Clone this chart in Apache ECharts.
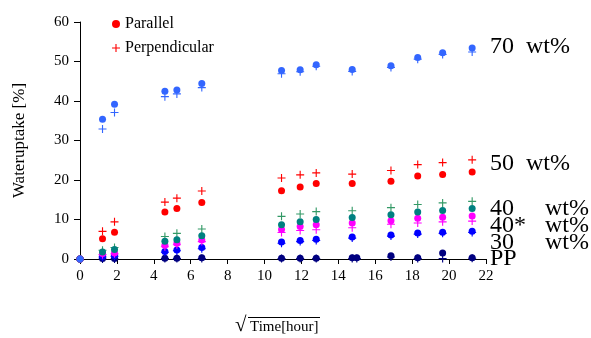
<!DOCTYPE html>
<html>
<head>
<meta charset="utf-8">
<script src="https://cdn.jsdelivr.net/npm/echarts@6/dist/echarts.min.js"></script>
<style>
  html, body { margin: 0; padding: 0; background: #fff; }
  #chart { width: 591px; height: 338px; }
</style>
</head>
<body>
<div id="chart"></div>
<script>
// sqrt(time) positions of the measurements
const xs = [0, 1.22, 1.87, 4.6, 5.25, 6.6, 10.92, 11.93, 12.8, 14.75, 16.85, 18.3, 19.65, 21.25]
const xsPP = [0, 1.22, 1.87, 4.6, 5.25, 6.6, 10.92, 11.93, 12.8, 14.75, 15.0, 16.85, 18.3, 19.65, 21.25]

const w70Par = [0, 35.4, 39.2, 42.5, 42.8, 44.4, 47.7, 47.9, 49.2, 48.0, 48.9, 51.0, 52.2, 53.4]
const w70Perp = [0, 32.9, 37.1, 41.1, 41.8, 43.4, 46.9, 47.4, 48.8, 47.5, 48.5, 50.6, 51.8, 52.4]
const w50Par = [0, 5.1, 6.8, 11.9, 12.8, 14.3, 17.3, 18.2, 19.1, 19.1, 19.7, 21.0, 21.4, 22.0]
const w50Perp = [0, 7.0, 9.4, 14.4, 15.4, 17.2, 20.5, 21.3, 21.8, 21.5, 22.4, 23.9, 24.4, 25.1]
const w40Par = [0, 1.8, 2.4, 4.5, 4.9, 5.9, 8.7, 9.4, 10.0, 10.5, 11.2, 11.9, 12.3, 12.8]
const w40Perp = [0, 2.2, 2.9, 5.7, 6.5, 7.6, 10.8, 11.4, 12.0, 12.2, 13.0, 13.8, 14.2, 14.6]
const w40sPar = [0, 1.4, 1.5, 3.5, 4.0, 4.8, 7.5, 8.2, 8.7, 9.1, 9.7, 10.3, 10.6, 10.9]
const w40sPerp = [0, 1.1, 1.3, 3.1, 3.6, 4.4, 6.7, 7.2, 7.4, 7.9, 8.8, 9.1, 9.4, 9.6]
const w30Par = [0, 0.7, 0.9, 1.9, 2.3, 2.9, 4.3, 4.7, 5.0, 5.6, 6.1, 6.6, 6.8, 7.0]
const w30Perp = [0, 0.5, 0.7, 1.7, 2.1, 2.6, 4.0, 4.4, 4.7, 5.3, 5.8, 6.3, 6.5, 6.7]
const ppPar = [0, 0.1, 0.1, 0.2, 0.2, 0.3, 0.2, 0.2, 0.2, 0.3, 0.3, 0.8, 0.3, 1.5, 0.3]
const ppPerp = [0, 0, 0, 0.1, 0.1, 0.1, 0.1, 0.1, 0.1, 0.1, 0.1, 0.5, 0.1, 0.1, 0.2]

const FONT = '"Liberation Serif", "DejaVu Serif", serif'
const PLUS = 'path://M0.43,0H0.57V0.43H1V0.57H0.57V1H0.43V0.57H0V0.43H0.43Z'

const zip = (x, y) => x.map((v, i) => [v, y[i]])

function dots(name, x, y, color) {
  return { name, type: 'scatter', data: zip(x, y), symbol: 'circle', symbolSize: 7,
    itemStyle: { color, opacity: 1 }, silent: true }
}
function pluses(name, x, y, color) {
  return { name, type: 'scatter', data: zip(x, y), symbol: PLUS, symbolSize: 8,
    itemStyle: { color, opacity: 1 }, silent: true }
}

const chart = echarts.init(document.getElementById('chart'))

const seriesLabels = [
  { text: '70  wt%', y: 48 },
  { text: '50  wt%', y: 165 },
  { text: '40', y: 210 },
  { text: '40*', y: 227 },
  { text: '30', y: 244 },
  { text: 'PP', y: 260 },
]
const wtLabels = [210, 227, 244]

chart.setOption({
  animation: false,
  backgroundColor: '#fff',
  grid: { left: 80, right: 105, top: 22, bottom: 79, containLabel: false },
  legend: {
    data: ['Parallel', 'Perpendicular'],
    orient: 'vertical',
    left: 107,
    top: 11,
    itemWidth: 8,
    itemHeight: 8,
    itemGap: 8,
    textStyle: { fontFamily: FONT, fontSize: 16, color: '#000' },
  },
  xAxis: {
    type: 'value', min: 0, max: 22, interval: 2,
    axisLine: { onZero: false, lineStyle: { color: '#000', width: 1 } },
    axisTick: { show: true, length: 5, lineStyle: { color: '#000' } },
    axisLabel: { fontFamily: FONT, fontSize: 15, color: '#000', margin: 10 },
    splitLine: { show: false },
  },
  yAxis: {
    type: 'value', min: 0, max: 60, interval: 10,
    name: 'Wateruptake [%]', nameLocation: 'middle', nameGap: 52,
    nameTextStyle: { fontFamily: FONT, fontSize: 17, color: '#000' },
    axisLine: { show: true, lineStyle: { color: '#000', width: 1 } },
    axisTick: { show: true, length: 6, lineStyle: { color: '#000' } },
    axisLabel: { fontFamily: FONT, fontSize: 15, color: '#000', margin: 11 },
    splitLine: { show: false },
  },
  series: [
    dots('Parallel', [], [], '#ff0000'),
    pluses('Perpendicular', [], [], '#ff0000'),
    pluses('PP perp', xsPP, ppPerp, '#000080'),
    dots('PP par', xsPP, ppPar, '#000080'),
    pluses('30 perp', xs, w30Perp, '#0000ff'),
    dots('30 par', xs, w30Par, '#0000ff'),
    pluses('40* perp', xs, w40sPerp, '#ff00ff'),
    dots('40* par', xs, w40sPar, '#ff00ff'),
    pluses('40 perp', xs, w40Perp, '#339966'),
    dots('40 par', xs, w40Par, '#008080'),
    pluses('50 perp', xs, w50Perp, '#ff0000'),
    dots('50 par', xs, w50Par, '#ff0000'),
    pluses('70 perp', xs, w70Perp, '#3366ff'),
    dots('70 par', xs, w70Par, '#3366ff'),
  ],
  graphic: [
    ...seriesLabels.map((l) => ({
      type: 'text', left: 490, top: l.y - 13,
      style: { text: l.text, font: '24px ' + FONT, fill: '#000' },
    })),
    ...wtLabels.map((y) => ({
      type: 'text', left: 545, top: y - 13,
      style: { text: 'wt%', font: '24px ' + FONT, fill: '#000' },
    })),
    {
      type: 'text', left: 235, top: 315,
      style: { text: '\u221A', font: '21px ' + FONT, fill: '#000' },
    },
    {
      type: 'line', shape: { x1: 248, y1: 317.5, x2: 320, y2: 317.5 },
      style: { stroke: '#000', lineWidth: 1 },
    },
    {
      type: 'text', left: 250, top: 320,
      style: { text: 'Time[hour]', font: '15px ' + FONT, fill: '#000' },
    },
  ],
})
</script>
</body>
</html>
